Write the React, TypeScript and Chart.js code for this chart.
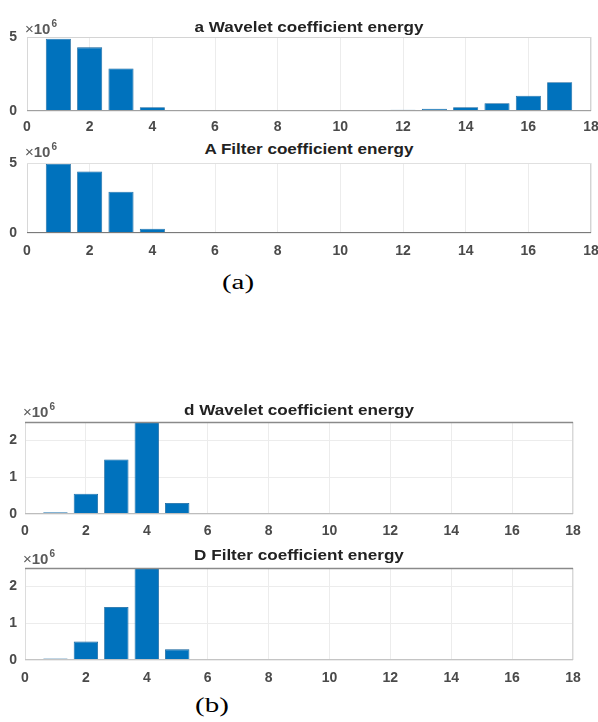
import React, { useEffect, useRef } from "react";
import { Chart, registerables } from "chart.js";

Chart.register(...registerables);

// ---------- data (energies in units of 10^6) ----------
const bins = [1, 2, 3, 4, 5, 6, 7, 8, 9, 10, 11, 12, 13, 14, 15, 16, 17];
const aWavelet = [4.88, 4.3, 2.88, 0.26, 0, 0, 0, 0, 0, 0, 0.06, 0.08, 0.15, 0.25, 0.52, 1.03, 1.95];
const AFilter = [4.95, 4.4, 2.95, 0.3, 0, 0, 0, 0, 0, 0, 0, 0, 0, 0, 0, 0, 0];
const dWavelet = [0.05, 0.55, 1.48, 2.8, 0.3, 0, 0, 0, 0, 0, 0, 0, 0, 0, 0, 0.01, 0.03];
const DFilter = [0.04, 0.5, 1.44, 2.8, 0.29, 0, 0, 0, 0, 0, 0, 0, 0, 0, 0, 0, 0];
const xTicks = [0, 2, 4, 6, 8, 10, 12, 14, 16, 18];
const yTicksA = [0, 5];
const yTicksD = [0, 1, 2];
const titles = [
  "a Wavelet coefficient energy",
  "A Filter coefficient energy",
  "d Wavelet coefficient energy",
  "D Filter coefficient energy",
];
const exponentLabel = "6";
const captions = ["(a)", "(b)"];

// ---------- layout ----------
const W = 598;
const TOPPAD = 6;
const XAXIS_H = 28;

type Frame = { top: string; bottom: string; left: string; right: string; topW: number };

type PanelCfg = {
  title: string;
  values: number[];
  yMax: number;
  yTicks: number[];
  l: number; r: number; t: number; b: number;
  xPad: number;
  titleY: number;
  expY: number;
  frame: Frame;
};

const panels: PanelCfg[] = [
  {
    title: titles[0], values: aWavelet, yMax: 5, yTicks: yTicksA,
    l: 27, r: 591, t: 37, b: 111, xPad: 8, titleY: 27, expY: 29,
    frame: { top: "#d4d4d4", bottom: "#a0a0a0", left: "#d8d8d8", right: "#d4d4d4", topW: 1 },
  },
  {
    title: titles[1], values: AFilter, yMax: 5, yTicks: yTicksA,
    l: 27, r: 591, t: 163, b: 233, xPad: 10, titleY: 149, expY: 152,
    frame: { top: "#e0e0e0", bottom: "#7a7a7a", left: "#d8d8d8", right: "#d4d4d4", topW: 1 },
  },
  {
    title: titles[2], values: dWavelet, yMax: 2.5, yTicks: yTicksD,
    l: 25, r: 573, t: 422, b: 514, xPad: 9, titleY: 410, expY: 412,
    frame: { top: "#8a8a8a", bottom: "#bdbdbd", left: "#dcdcdc", right: "#d8d8d8", topW: 1.5 },
  },
  {
    title: titles[3], values: DFilter, yMax: 2.5, yTicks: yTicksD,
    l: 25, r: 573, t: 568, b: 660, xPad: 10, titleY: 555, expY: 559,
    frame: { top: "#8a8a8a", bottom: "#c4c4c4", left: "#dcdcdc", right: "#d8d8d8", topW: 1.5 },
  },
];

const tickFont = { family: "'Liberation Sans', Arial, sans-serif", size: 14, weight: "bold" as const };
const tickColor = "#4a4a4a";
const gridColor = "#ececec";

const framePlugin = {
  id: "frame",
  afterDraw(chart: any, _args: any, opts: any) {
    const f: Frame = opts.frame;
    if (!f) return;
    const { left, right, top, bottom } = chart.chartArea;
    const ctx = chart.ctx;
    ctx.save();
    const line = (x1: number, y1: number, x2: number, y2: number, c: string, w: number) => {
      ctx.beginPath();
      ctx.strokeStyle = c;
      ctx.lineWidth = w;
      ctx.moveTo(x1, y1);
      ctx.lineTo(x2, y2);
      ctx.stroke();
    };
    line(left + 0.5, top, left + 0.5, bottom, f.left, 1);
    line(right - 0.5, top, right - 0.5, bottom, f.right, 1);
    line(left, top + 0.5, right, top + 0.5, f.top, f.topW);
    line(left, bottom - 0.5, right, bottom - 0.5, f.bottom, 1);
    ctx.restore();
  },
};

function Panel({ cfg }: { cfg: PanelCfg }) {
  const ref = useRef<HTMLCanvasElement | null>(null);
  const height = cfg.b - cfg.t + TOPPAD + XAXIS_H;

  useEffect(() => {
    if (!ref.current) return;
    const chart = new Chart(ref.current, {
      type: "bar",
      data: {
        datasets: [
          {
            data: bins.map((x, i) => ({ x, y: cfg.values[i] })),
            backgroundColor: "#0072BD",
            borderColor: "#0a5d98",
            borderWidth: 0.8,
            barPercentage: 0.8,
            categoryPercentage: 1,
          },
        ],
      },
      options: {
        animation: false,
        responsive: false,
        devicePixelRatio: 1,
        events: [],
        layout: { padding: { top: TOPPAD, left: 0, right: W - cfg.r, bottom: 0 } },
        plugins: {
          legend: { display: false },
          tooltip: { enabled: false },
          title: { display: false },
          frame: { frame: cfg.frame },
        } as any,
        scales: {
          x: {
            type: "linear",
            position: "bottom",
            min: 0,
            max: 18,
            offset: false,
            afterBuildTicks: (s: any) => {
              s.ticks = xTicks.map((v) => ({ value: v }));
            },
            afterFit: (s: any) => {
              s.height = XAXIS_H;
              s.paddingLeft = 0;
              s.paddingRight = 0;
            },
            ticks: {
              padding: cfg.xPad,
              font: tickFont,
              color: tickColor,
              maxRotation: 0,
              autoSkip: false,
              callback: (v: any) => String(v),
            },
            grid: { color: gridColor, drawTicks: false, offset: false },
            border: { display: false },
          },
          y: {
            type: "linear",
            min: 0,
            max: cfg.yMax,
            afterBuildTicks: (s: any) => {
              s.ticks = cfg.yTicks.map((v) => ({ value: v }));
            },
            afterFit: (s: any) => {
              s.width = cfg.l;
              s.paddingTop = 0;
              s.paddingBottom = 0;
            },
            ticks: {
              padding: cfg.l - 17,
              font: tickFont,
              color: tickColor,
              callback: (v: any) => String(v),
            },
            grid: { color: gridColor, drawTicks: false },
            border: { display: false },
          },
        },
      } as any,
      plugins: [framePlugin],
    });
    return () => chart.destroy();
  }, [cfg]);

  const cx = (cfg.l + cfg.r) / 2;
  return (
    <>
      <canvas
        ref={ref}
        width={W}
        height={height}
        style={{ position: "absolute", left: 0, top: cfg.t - TOPPAD, width: W, height }}
      />
      <div
        style={{
          position: "absolute",
          left: cx,
          top: cfg.titleY,
          transform: "translate(-50%, -50%) scaleX(1.22)",
          whiteSpace: "nowrap",
          font: "bold 14px 'Liberation Sans', Arial, sans-serif",
          color: "#222",
          lineHeight: "16px",
        }}
      >
        {cfg.title}
      </div>
      <div
        style={{
          position: "absolute",
          left: cfg.l - 2,
          top: cfg.expY - 9,
          whiteSpace: "nowrap",
          font: "bold 15px 'Liberation Sans', Arial, sans-serif",
          color: "#5a5a5a",
          lineHeight: "18px",
        }}
      >
        <span style={{ fontWeight: "normal" }}>×</span>10
        <span style={{ fontSize: "10px", position: "relative", top: "-7px", marginLeft: "1px" }}>
          {exponentLabel}
        </span>
      </div>
    </>
  );
}

export default function App() {
  return (
    <div
      style={{
        position: "absolute",
        left: 0,
        top: 0,
        width: W,
        height: 722,
        background: "#fff",
        overflow: "hidden",
      }}
    >
      {panels.map((p, i) => (
        <Panel key={i} cfg={p} />
      ))}
      <div
        style={{
          position: "absolute",
          left: 238,
          top: 282,
          transform: "translate(-50%, -50%) scaleX(1.45)",
          font: "20px 'Liberation Serif', 'Times New Roman', serif",
          color: "#000",
        }}
      >
        {captions[0]}
      </div>
      <div
        style={{
          position: "absolute",
          left: 212,
          top: 705,
          transform: "translate(-50%, -50%) scaleX(1.45)",
          font: "20px 'Liberation Serif', 'Times New Roman', serif",
          color: "#000",
        }}
      >
        {captions[1]}
      </div>
    </div>
  );
}
